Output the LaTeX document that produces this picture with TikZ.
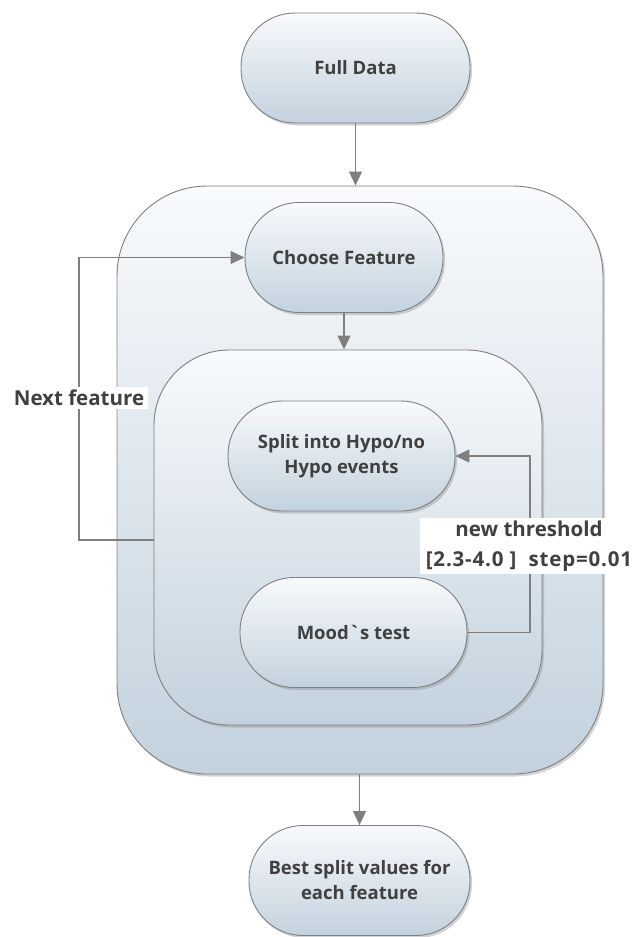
\documentclass[tikz,border=0pt]{standalone}
\usepackage{fontspec}
\setmainfont{Open Sans}[Ligatures=TeXOff]
\usetikzlibrary{arrows.meta,shadows,calc}
\definecolor{txt}{HTML}{404040}
\definecolor{edge}{HTML}{7F7F7F}
\definecolor{topc}{HTML}{F8FAFC}
\definecolor{botc}{HTML}{C3D2DE}
\tikzset{
  pill/.style={draw=edge, line width=0.9pt, rounded corners=54pt, minimum width=#1, minimum height=110pt,
    top color=topc, bottom color=botc, drop shadow={shadow xshift=2pt, shadow yshift=-2.5pt, opacity=0.35},
    text=txt, align=center, font=\fontsize{18.5}{25}\selectfont\bfseries, inner sep=0pt},
  bigbox/.style={draw=edge, line width=0.9pt, minimum width=#1,
    top color=topc, bottom color=botc, drop shadow={shadow xshift=2pt, shadow yshift=-2.5pt, opacity=0.35}},
  arr/.style={draw=edge, line width=1.1pt, -{Triangle[length=14pt,width=13pt]}},
  lbl/.style={fill=white, text=txt, align=center, inner xsep=4pt, inner ysep=3pt},
}
\begin{document}
\begin{tikzpicture}[x=1pt,y=-1pt]
\useasboundingbox (0,0) rectangle (638,937);
% containers
\node[bigbox=486pt, minimum height=588pt, rounded corners=90pt] (outer) at (360,480) {};
\node[bigbox=388pt, minimum height=375pt, rounded corners=75pt] (inner) at (348,537.5) {};
% nodes
\node[pill=229pt] (full) at (355.5,68) {Full Data};
\node[pill=198pt] (choose) at (344,257.5) {Choose Feature};
\node[pill=227pt] (split) at (341.5,456) {Split into Hypo/no\\Hypo events};
\node[pill=227pt] (mood) at (353.5,632.5) {Mood`s test};
\node[pill=221pt] (best) at (359.5,880.5) {Best split values for\\each feature};
% connectors
\draw[arr] (full.south) -- (full.south |- outer.north);
\draw[arr] (choose.south) -- (choose.south |- inner.north);
\draw[arr] (outer.south -| best.north) -- (best.north);
\coordinate (nf) at (79,540);
\draw[arr] (inner.west |- nf) -- (nf) |- (choose.west);
\coordinate (thr) at (530,545);
\draw[arr] (mood.east) -| (thr) |- (split.east);
% labels
\node[lbl, font=\fontsize{20.5}{30}\selectfont\bfseries] (nflbl) at (79,398) {Next feature};
\node[lbl, font=\fontsize{20.5}{30}\selectfont\bfseries, inner xsep=6pt] (thrlbl) at (529,546) {new threshold\\{\addfontfeature{LetterSpace=4}[2.3-4.0 ]\ \ step=0.01}};
\end{tikzpicture}
\end{document}
